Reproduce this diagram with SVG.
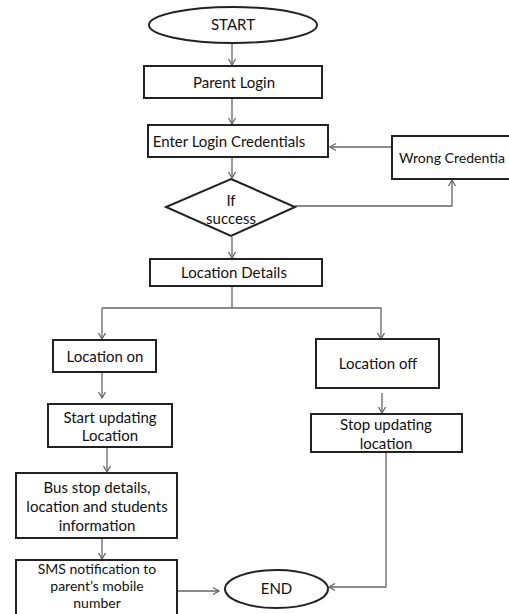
<svg xmlns="http://www.w3.org/2000/svg" width="509" height="614" viewBox="0 0 509 614">
<style>
.box{fill:#fff;stroke:#222;stroke-width:2}
.t{font-family:Lato,"Liberation Sans",sans-serif;font-size:15px;fill:#111;text-anchor:middle}
.s{font-size:14px}
.c{fill:none;stroke:#666;stroke-width:1.3}
</style>
<defs>
<marker id="a" markerUnits="userSpaceOnUse" markerWidth="10" markerHeight="10" refX="7" refY="4" orient="auto" viewBox="0 0 10 8">
<path d="M1,0.5 L7,4 L1,7.5" fill="none" stroke="#666" stroke-width="1.3"/>
</marker>
</defs>
<rect width="509" height="614" fill="#fff"/>
<g id="connectors">
<path class="c" d="M232,43 V65" marker-end="url(#a)"/>
<path class="c" d="M232,98 V124" marker-end="url(#a)"/>
<path class="c" d="M392,147 H330" marker-end="url(#a)"/>
<path class="c" d="M232,157 V178" marker-end="url(#a)"/>
<path class="c" d="M295,206 H452 V180" marker-end="url(#a)"/>
<path class="c" d="M232,237 V258" marker-end="url(#a)"/>
<path class="c" d="M232,286 V308"/>
<path class="c" d="M102,308 H381 V339" marker-end="url(#a)"/>
<path class="c" d="M102,308 V339" marker-end="url(#a)"/>
<path class="c" d="M102,373 V398" marker-end="url(#a)"/>
<path class="c" d="M382,393 V413" marker-end="url(#a)"/>
<path class="c" d="M107,447 V472" marker-end="url(#a)"/>
<path class="c" d="M102,538 V559" marker-end="url(#a)"/>
<path class="c" d="M177,591 H219" marker-end="url(#a)"/>
<path class="c" d="M386,452 V587 H329" marker-end="url(#a)"/>
</g>
<g id="start">
<ellipse class="box" cx="233" cy="25" rx="84" ry="18"/>
<text class="t" x="233" y="30">START</text>
</g>
<g id="parent-login">
<rect class="box" x="144" y="66" width="178" height="32"/>
<text class="t" x="234" y="88">Parent Login</text>
</g>
<g id="enter-credentials">
<rect class="box" x="148" y="125" width="180" height="32"/>
<text class="t" x="229" y="147">Enter Login Credentials</text>
</g>
<g id="wrong-credentials">
<rect class="box" x="392" y="136" width="125" height="43"/>
<text class="t s" x="399" y="163" style="text-anchor:start" textLength="106" lengthAdjust="spacingAndGlyphs">Wrong Credentia</text>
</g>
<g id="if-success">
<polygon class="box" points="231,179 295,207 231,236 166,207"/>
<text class="t" x="231" y="206">If</text>
<text class="t" x="231" y="224">success</text>
</g>
<g id="location-details">
<rect class="box" x="150" y="259" width="172" height="27"/>
<text class="t" x="234" y="278">Location Details</text>
</g>
<g id="location-on">
<rect class="box" x="53" y="340" width="103" height="32"/>
<text class="t" x="105" y="362">Location on</text>
</g>
<g id="location-off">
<rect class="box" x="316" y="339" width="123" height="49"/>
<text class="t" x="378" y="369">Location off</text>
</g>
<g id="start-updating">
<rect class="box" x="48" y="404" width="124" height="43"/>
<text class="t" x="110" y="423">Start updating</text>
<text class="t" x="110" y="441">Location</text>
</g>
<g id="stop-updating">
<rect class="box" x="311" y="414" width="151" height="38"/>
<text class="t" x="386" y="430">Stop updating</text>
<text class="t" x="386" y="449">location</text>
</g>
<g id="bus-stop">
<rect class="box" x="16" y="473" width="161" height="65"/>
<text class="t" x="97" y="493">Bus stop details,</text>
<text class="t" x="97" y="512">location and students</text>
<text class="t" x="97" y="531">information</text>
</g>
<g id="sms">
<rect class="box" x="16" y="560" width="161" height="60"/>
<text class="t s" x="97" y="574">SMS notification to</text>
<text class="t s" x="97" y="591">parent’s mobile</text>
<text class="t s" x="97" y="608">number</text>
</g>
<g id="end">
<ellipse class="box" cx="276.5" cy="589" rx="51.5" ry="19"/>
<text class="t" x="276.5" y="594">END</text>
</g>
</svg>
